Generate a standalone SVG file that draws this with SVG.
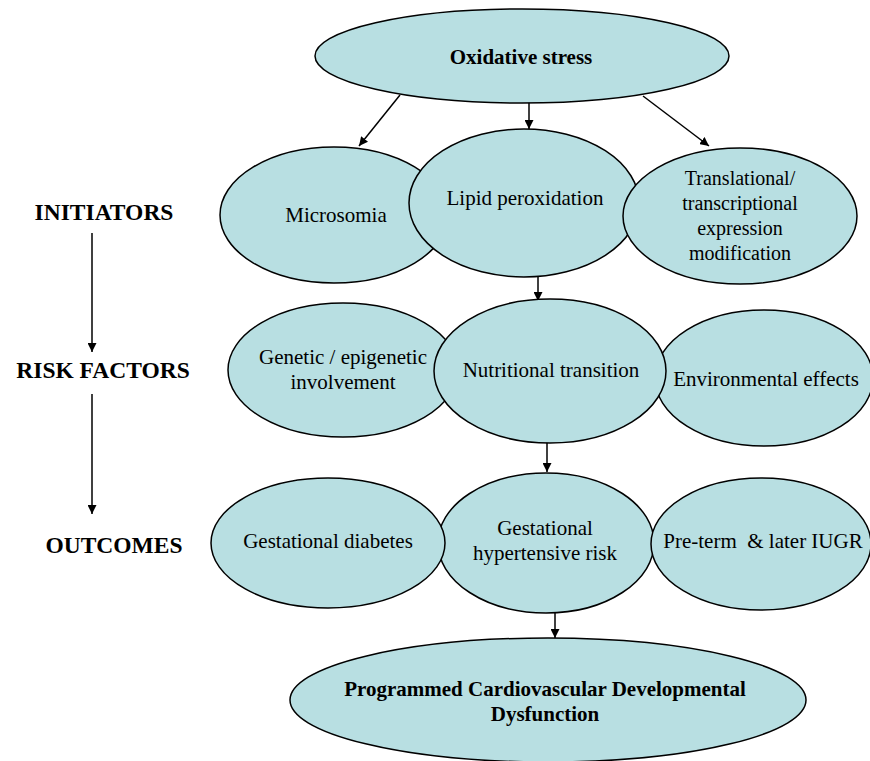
<svg xmlns="http://www.w3.org/2000/svg" width="870" height="761" viewBox="0 0 870 761">
  <defs>
    <marker id="arrow" viewBox="0 0 10 10" refX="10" refY="5" markerWidth="9" markerHeight="9" markerUnits="userSpaceOnUse" orient="auto">
      <path d="M0,0 L10,5 L0,10 z" fill="#000"/>
    </marker>
    <style>
      .node ellipse { fill: #b8dfe2; stroke: #000; stroke-width: 1.5; }
      text { font-family: 'Liberation Serif', 'Times New Roman', serif; fill: #000; text-anchor: middle; }
      .t { font-size: 21px; }
      .s { font-size: 20px; }
      .b { font-size: 21px; font-weight: bold; }
      .lbl { font-size: 23.5px; font-weight: bold; }
      .conn line { stroke: #000; stroke-width: 1.5; marker-end: url(#arrow); }
    </style>
  </defs>
  <rect width="870" height="761" fill="#fff"/>

  <!-- stage labels on the left -->
  <g id="stage-labels">
    <text class="lbl" x="104" y="220">INITIATORS</text>
    <text class="lbl" x="103" y="378">RISK FACTORS</text>
    <text class="lbl" x="114" y="553">OUTCOMES</text>
  </g>

  <!-- connectors -->
  <g class="conn" id="connectors">
    <line x1="92" y1="233" x2="92" y2="352"/>
    <line x1="92" y1="394" x2="92" y2="514"/>
    <line x1="400" y1="95" x2="359" y2="146"/>
    <line x1="529" y1="102" x2="529" y2="129"/>
    <line x1="643" y1="96" x2="709" y2="146"/>
    <line x1="538" y1="266" x2="538" y2="301"/>
    <line x1="547" y1="437" x2="547" y2="472"/>
    <line x1="555" y1="612" x2="555" y2="638"/>
  </g>

  <g class="node" id="oxidative-stress">
    <ellipse cx="522" cy="56" rx="207" ry="47"/>
    <text class="b" x="521" y="64">Oxidative stress</text>
  </g>

  <!-- initiators row -->
  <g class="node" id="microsomia">
    <ellipse cx="334" cy="215" rx="114" ry="68"/>
    <text class="t" x="336" y="222">Microsomia</text>
  </g>
  <g class="node" id="lipid-peroxidation">
    <ellipse cx="524" cy="203" rx="115" ry="74"/>
    <text class="t" x="525" y="205">Lipid peroxidation</text>
  </g>
  <g class="node" id="translational">
    <ellipse cx="740" cy="216" rx="117" ry="68"/>
    <text class="s" x="740" y="185">Translational/</text>
    <text class="s" x="740" y="210">transcriptional</text>
    <text class="s" x="740" y="235">expression</text>
    <text class="s" x="740" y="260">modification</text>
  </g>

  <!-- risk factors row -->
  <g class="node" id="environmental">
    <ellipse cx="764" cy="378" rx="109" ry="68"/>
    <text class="t" x="766" y="386">Environmental effects</text>
  </g>
  <g class="node" id="genetic">
    <ellipse cx="343" cy="370" rx="115" ry="67"/>
    <text class="t" x="343" y="364">Genetic / epigenetic</text>
    <text class="t" x="343" y="389">involvement</text>
  </g>
  <g class="node" id="nutritional">
    <ellipse cx="550" cy="371" rx="116" ry="72"/>
    <text class="t" x="551" y="377">Nutritional transition</text>
  </g>

  <!-- outcomes row -->
  <g class="node" id="hypertensive">
    <ellipse cx="546" cy="543" rx="108" ry="70"/>
    <text class="t" x="545" y="535">Gestational</text>
    <text class="t" x="545" y="560">hypertensive risk</text>
  </g>
  <g class="node" id="diabetes">
    <ellipse cx="328" cy="543" rx="117" ry="65"/>
    <text class="t" x="328" y="548">Gestational diabetes</text>
  </g>
  <g class="node" id="preterm">
    <ellipse cx="761" cy="544" rx="110" ry="66"/>
    <text class="t" x="763" y="548" xml:space="preserve">Pre-term  &amp; later IUGR</text>
  </g>

  <g class="node" id="programmed">
    <ellipse cx="548" cy="700" rx="258" ry="62"/>
    <text class="b" x="545" y="696">Programmed Cardiovascular Developmental</text>
    <text class="b" x="545" y="721">Dysfunction</text>
  </g>
</svg>
